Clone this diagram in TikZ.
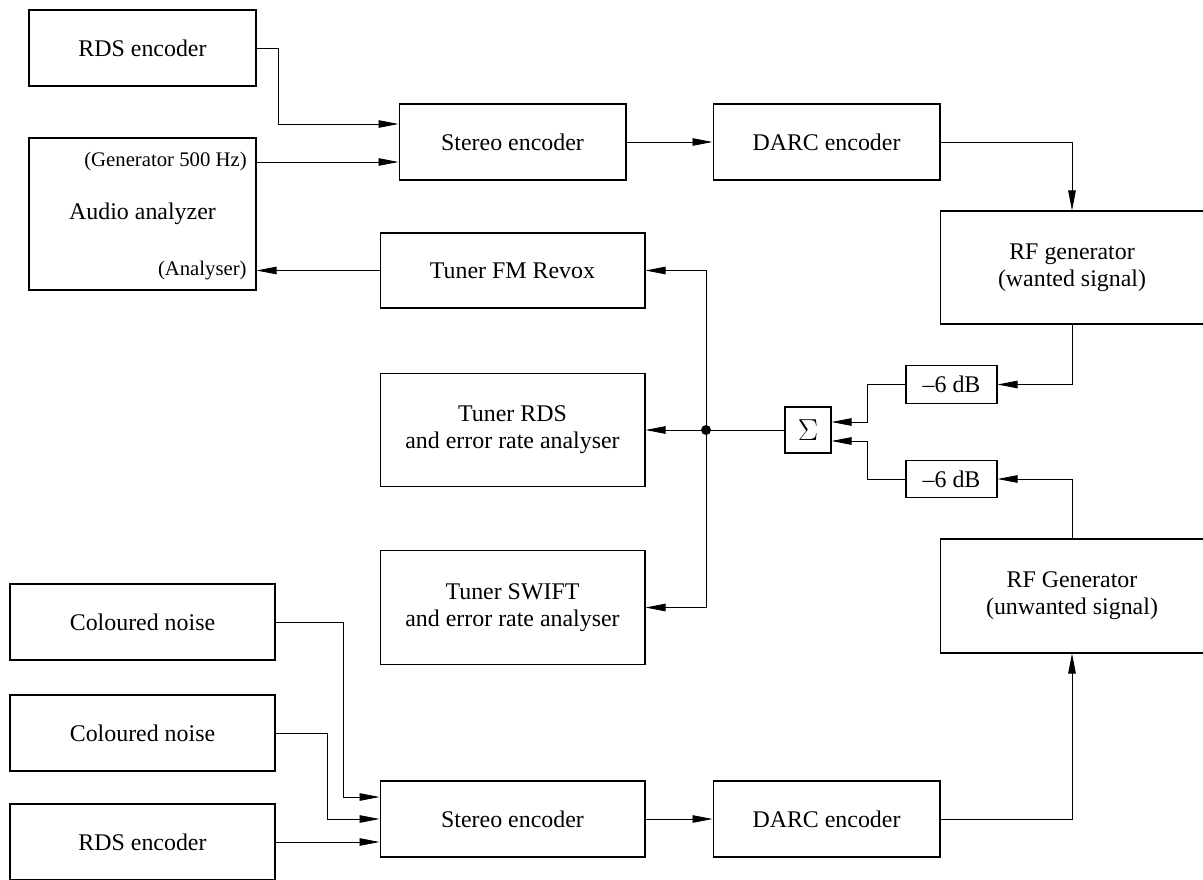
\documentclass[tikz,border=0pt]{standalone}
\usepackage{fontspec}
\setmainfont{Liberation Serif}
\usetikzlibrary{arrows.meta,calc}

\begin{document}
\begin{tikzpicture}[x=0.02cm,y=-0.02cm,
  box/.style={draw,line width=0.6pt,minimum width=4.54cm,minimum height=1.52cm,
              align=center,inner sep=0pt,font=\fontsize{13.6}{15.5}\selectfont},
  wbox/.style={box,minimum width=5.3cm},
  tbox/.style={box,minimum width=5.3cm,minimum height=2.27cm},
  dbbox/.style={box,minimum width=1.82cm,minimum height=0.75cm},
  lbl/.style={anchor=east,inner sep=0pt,font=\fontsize{11.8}{13}\selectfont},
  arr/.style={-{Triangle[length=0.4cm,width=0.15cm]},line width=0.5pt}
]
\useasboundingbox (0,0) rectangle (1203,879);

% upper chain
\node[box] (rdsA) at (142.5,48) {RDS encoder};
\node[box,minimum height=3.04cm] (audio) at (142.5,214) {Audio analyzer};
\node[lbl] (gen) at (247,162) {(Generator 500 Hz)};
\node[lbl] (ana) at (247,271) {(Analyser)};
\node[box] (stereoA) at (512.5,142) {Stereo encoder};
\node[box] (darcA) at (826.5,142) {DARC encoder};
\node[box,minimum width=5.28cm,minimum height=2.26cm] (rfw) at (1072,267.5)
  {RF generator\\(wanted signal)};

% tuners
\node[wbox,minimum height=1.5cm] (fm) at (512.5,270.5) {Tuner FM Revox};
\node[tbox] (trds) at (512.5,430) {Tuner RDS\\and error rate analyser};
\node[tbox] (swift) at (512.5,607.5) {Tuner SWIFT\\and error rate analyser};

% summing
\node[dbbox] (dbA) at (951.5,384.5) {–6 dB};
\node[dbbox] (dbB) at (951.5,479) {–6 dB};
\node[box,minimum width=0.92cm,minimum height=0.92cm,font=\LARGE] (sum) at (808,430) {$\Sigma$};
\node[circle,fill,inner sep=0pt,minimum size=0.2cm] (jn) at (706,430) {};

% lower chain
\node[box,minimum width=5.28cm,minimum height=2.28cm] (rfu) at (1072,596)
  {RF Generator\\(unwanted signal)};
\node[wbox] (noiseA) at (142.5,622) {Coloured noise};
\node[wbox] (noiseB) at (142.5,733) {Coloured noise};
\node[wbox] (rdsB) at (142.5,842) {RDS encoder};
\node[wbox] (stereoB) at (512.5,819) {Stereo encoder};
\node[box] (darcB) at (826.5,819) {DARC encoder};

\draw[arr] (rdsA.east) -- ++(22,0) |- ([yshift=0.36cm]stereoA.west);
\draw[arr] (gen.east -| audio.east) -- (gen.east -| stereoA.west);
\draw[arr] (stereoA) -- (darcA);
\draw[arr] (darcA.east) -| (rfw.north);
\draw[arr] (fm.west) -- (fm.west -| audio.east);
\draw[arr] (rfw.south) |- (dbA.east);
\draw[arr] (dbA.west) -- ++(-38,0) |- ([yshift=0.16cm]sum.east);
\draw[arr] (dbB.west) -- ++(-38,0) |- ([yshift=-0.22cm]sum.east);
\draw[arr] (rfu.north) |- (dbB.east);
\draw (sum.west) -- (jn.center);
\draw[arr] (jn.center) -- (trds.east);
\draw[arr] (jn.center) |- (fm.east);
\draw[arr] (jn.center) |- (swift.east);
\draw[arr] (darcB.east) -| (rfu.south);
\draw[arr] (stereoB) -- (darcB);
\draw[arr] (noiseA.east) -- ++(68,0) |- ([yshift=0.44cm]stereoB.west);
\draw[arr] (noiseB.east) -- ++(52,0) |- (stereoB.west);
\draw[arr] (rdsB.east) -- (rdsB.east -| stereoB.west);
\end{tikzpicture}
\end{document}
